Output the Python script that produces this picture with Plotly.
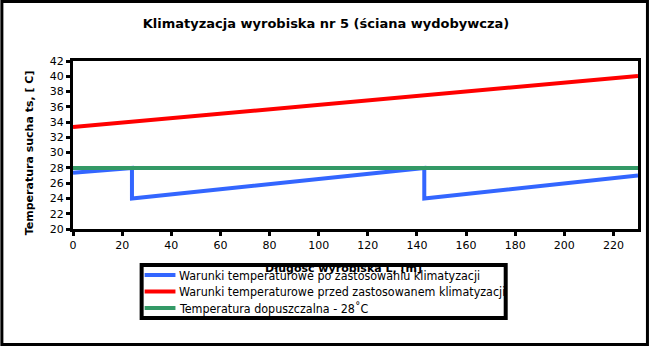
import plotly.graph_objects as go

# Data
x_after = [0, 24, 24, 143, 143, 230]
t_after = [27.35, 28.0, 24.0, 28.0, 24.0, 27.0]
x_before = [0, 230]
t_before = [33.35, 40.05]
x_limit = [0, 230]
t_limit = [28, 28]

names = [
    "Warunki temperaturowe po zastosowaniu klimatyzacji",
    "Warunki temperaturowe przed zastosowanem klimatyzacji",
    "Temperatura dopuszczalna - 28˚C",
]
colors = ["#3366ff", "#ff0000", "#339966"]

FONT = "DejaVu Sans"
COND = "DejaVu Sans Condensed, DejaVu Sans"
W, H = 652, 346
L, R, T, B = 73, 11, 61, 117
pw, ph = W - L - R, H - T - B

def px(p):
    return (p - L) / pw

def py(p):
    return (H - B - p) / ph

fig = go.Figure()
for xs, ys, nm, c in [(x_after, t_after, names[0], colors[0]),
                      (x_before, t_before, names[1], colors[1]),
                      (x_limit, t_limit, names[2], colors[2])]:
    fig.add_trace(go.Scatter(x=xs, y=ys, mode="lines", name=nm,
                             line=dict(color=c, width=4), showlegend=False))

annotations = [
    dict(text="<b>Długość wyrobiska L, [m]</b>", xref="paper", yref="paper",
         x=px(345), y=py(268), xanchor="center", yanchor="middle",
         showarrow=False, font=dict(family=FONT, size=11)),
    dict(text="<b>Temperatura sucha ts, [ C]</b>", xref="paper", yref="paper",
         x=px(29), y=py(153), xanchor="center", yanchor="middle", textangle=-90,
         showarrow=False, font=dict(family=FONT, size=11)),
]
shapes = [
    dict(type="rect", xref="paper", yref="paper",
         x0=px(1.5), x1=px(W - 1.5), y0=py(H - 1.5), y1=py(1.5),
         line=dict(color="black", width=3), layer="above"),
    dict(type="rect", xref="paper", yref="paper",
         x0=px(142), x1=px(508), y0=py(318), y1=py(265),
         line=dict(color="black", width=4), layer="above"),
]
item_y = [275, 291.5, 308]
for nm, c, yy in zip(names, colors, item_y):
    shapes.append(dict(type="line", xref="paper", yref="paper",
                       x0=px(145), x1=px(176), y0=py(yy), y1=py(yy),
                       line=dict(color=c, width=4), layer="above"))
    annotations.append(dict(text=nm, xref="paper", yref="paper",
                            x=px(177.5), y=py(yy), xanchor="left", yanchor="middle",
                            showarrow=False, font=dict(family=COND, size=12.4)))

fig.update_layout(
    width=W, height=H,
    margin=dict(l=L, r=R, t=T, b=B),
    paper_bgcolor="white", plot_bgcolor="white",
    font=dict(family=FONT, size=11, color="black"),
    title=dict(text="<b>Klimatyzacja wyrobiska nr 5 (ściana wydobywcza)</b>",
               font=dict(family=FONT, size=13, color="black"),
               x=0.5, xref="container", xanchor="center",
               y=1 - 23 / H, yanchor="middle"),
    xaxis=dict(range=[0, 230], tickmode="array", tickvals=list(range(0, 221, 20)),
               showgrid=False, zeroline=False, showline=True, linecolor="black",
               linewidth=3, mirror=True, ticks="outside", ticklen=4, tickwidth=3,
               tickcolor="black", tickfont=dict(size=11)),
    yaxis=dict(range=[20, 42], tickmode="array", tickvals=list(range(20, 43, 2)),
               showgrid=False, zeroline=False, showline=True, linecolor="black",
               linewidth=3, mirror=True, ticks="outside", ticklen=4, tickwidth=3,
               tickcolor="black", tickfont=dict(size=11)),
    showlegend=False,
    annotations=annotations,
    shapes=shapes,
)

fig.write_html("out.html")
